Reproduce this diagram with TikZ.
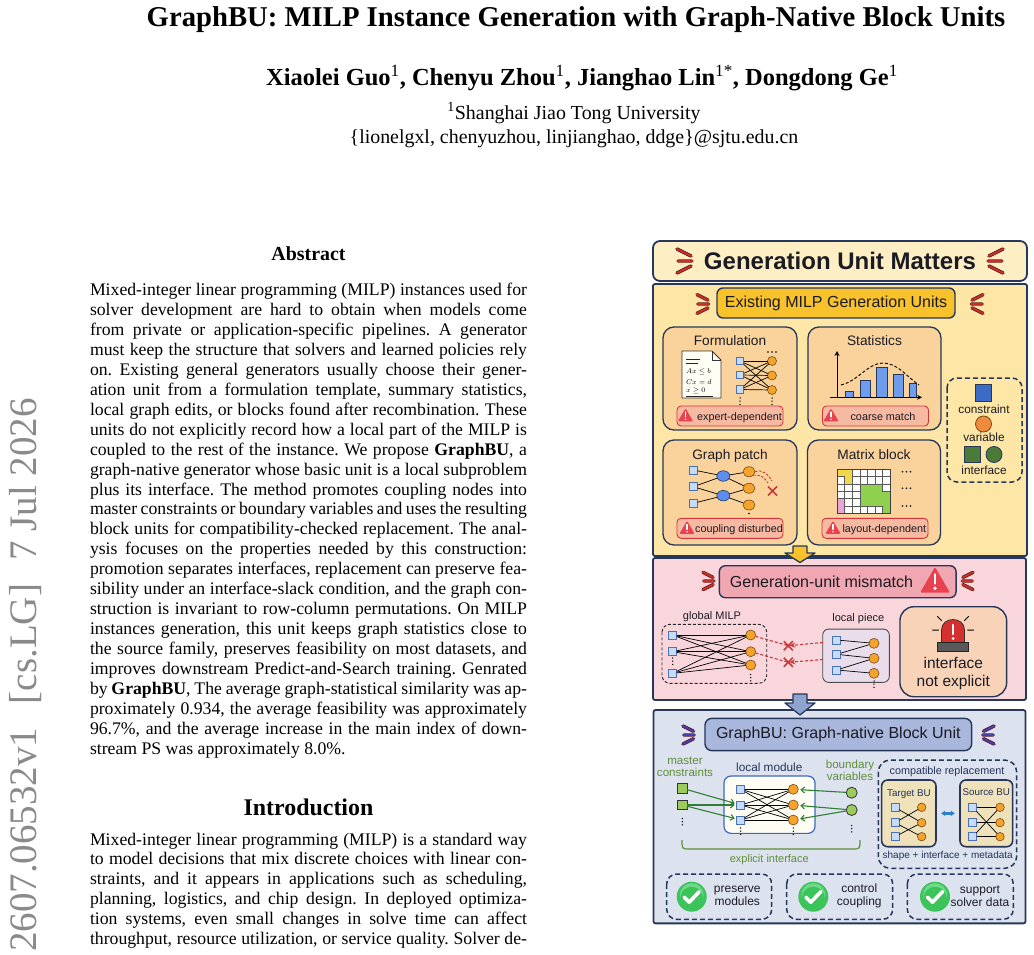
\documentclass[tikz,border=0pt]{standalone}
\usepackage{fontspec}
\setmainfont{Liberation Serif}
\newfontfamily\figsans{Liberation Sans}
\usetikzlibrary{arrows.meta,shapes.geometric}
\frenchspacing
\newcommand\fsz[2]{\fontsize{#1}{#2}\selectfont}
\definecolor{navy}{HTML}{26375A}
\definecolor{titlefill}{HTML}{FDEFC3}
\definecolor{ypanel}{HTML}{FDE6A6}
\definecolor{goldbox}{HTML}{F8C22C}
\definecolor{cardfill}{HTML}{F9D39B}
\definecolor{badgefill}{HTML}{F6B9A1}
\definecolor{badgeline}{HTML}{D4353B}
\definecolor{warnred}{HTML}{E8414F}
\definecolor{markred}{HTML}{C9302C}
\definecolor{markdark}{HTML}{5B1B1B}
\definecolor{barblue}{HTML}{6E9DEE}
\definecolor{sqfill}{HTML}{C7DBF6}
\definecolor{sqline}{HTML}{4B72B5}
\definecolor{orfill}{HTML}{F4A42C}
\definecolor{orline}{HTML}{7A4A12}
\definecolor{bluec}{HTML}{5B8EEE}
\definecolor{legblue}{HTML}{3C6BC5}
\definecolor{legorange}{HTML}{F08A3C}
\definecolor{leggreen}{HTML}{4B7B39}
\definecolor{pinkpanel}{HTML}{F9D6DC}
\definecolor{pinkbox}{HTML}{F1A7B1}
\definecolor{lavbox}{HTML}{EADDEB}
\definecolor{peach}{HTML}{F9D3B7}
\definecolor{bluepanel}{HTML}{DDE2EF}
\definecolor{bubox}{HTML}{A9B7DC}
\definecolor{bluearrow}{HTML}{8EA4CF}
\definecolor{indigo}{HTML}{4A3FAF}
\definecolor{gtext}{HTML}{5E8E3B}
\definecolor{garrow}{HTML}{2F7F34}
\definecolor{lgreen}{HTML}{9BCB5C}
\definecolor{modline}{HTML}{3D68C4}
\definecolor{modfill}{HTML}{FFFDF3}
\definecolor{khaki}{HTML}{EFE1B9}
\definecolor{dblue}{HTML}{2C7FCF}
\definecolor{checkg}{HTML}{3BC45A}
\definecolor{checkl}{HTML}{6FD98A}
\definecolor{stampgray}{HTML}{8A8A8A}
\definecolor{matyel}{HTML}{F2D64B}
\definecolor{matgreen}{HTML}{8FD14F}
\definecolor{matpink}{HTML}{E6A6D8}
\definecolor{figtext}{HTML}{1B1B24}
\definecolor{redx}{HTML}{C8383A}
\definecolor{sirenred}{HTML}{D62F2F}
\definecolor{navytext}{HTML}{22335A}

\tikzset{
  every node/.style={inner sep=0pt,outer sep=0pt},
  bodyl/.style={anchor=base west,font=\fsz{17.7}{20}},
  ft/.style={font=\figsans\fsz{#1}{#1},text=figtext},
  card/.style={draw=navy,line width=1.3pt,fill=cardfill,rounded corners=11pt},
  badge/.style={draw=badgeline,line width=0.9pt,fill=badgefill,rounded corners=4pt,minimum width=106pt,minimum height=20pt},
  csq/.style={rectangle,draw=sqline,fill=sqfill,line width=0.7pt,minimum size=#1},
  csq/.default=8pt,
  vci/.style={circle,draw=orline,fill=orfill,line width=0.6pt,minimum size=#1},
  vci/.default=9pt,
  edg/.style={draw=black,line width=0.7pt},
  panel/.style={draw=navy,line width=1.8pt},
  dbox/.style={draw=navy,line width=1.5pt,dash pattern=on 5pt off 3pt,rounded corners=10pt},
  reddash/.style={draw=redx,line width=1.1pt,dash pattern=on 3pt off 2pt},
  garr/.style={draw=garrow,line width=1.1pt,-{Straight Barb[length=3.5pt,width=6pt]},shorten >=2pt},
}

\newcommand\jl[3]{\node[bodyl] (#1) at (90,#2) {\makebox[437pt][s]{#3}};}
\newcommand\jlast[3]{\node[bodyl] (#1) at (90,#2) {#3};}
\newcommand\emark[5]{%
  \begin{scope}[shift={(#1,#2)},xscale=#4*#3,yscale=#3]
    \draw[markdark,line width=3.4pt,line cap=round] (0,-12) -- (14,-5) (1,0) -- (15,0) (0,12) -- (14,5);
    \draw[#5,line width=2pt,line cap=round] (0,-12) -- (14,-5) (1,0) -- (15,0) (0,12) -- (14,5);
  \end{scope}}
\newcommand\warnat[4]{%
  \begin{scope}[shift={(#1,#2)},scale=#3]
    \fill[warnred,rounded corners=1.2pt] (-9,7) -- (0,-8.5) -- (9,7) -- cycle;
    \draw[white,line width=#4,line cap=round] (0,-4) -- (0,1.5);
    \fill[white] (0,4.4) circle (1.1pt);
  \end{scope}}
\newcommand\vdts[2]{\foreach \dd in {0,3.2,6.4}{\fill (#1,#2+\dd) circle (0.75pt);}}
\newcommand\hdts[2]{\foreach \dd in {-4,0,4}{\fill (#1+\dd,#2) circle (0.9pt);}}
\newcommand\checkat[2]{%
  \fill[checkg] (#1,#2) circle (15pt);
  \fill[checkl] (#1,#2-1.5) circle (12pt);
  \fill[checkg] (#1,#2+1.5) circle (11.5pt);
  \draw[white,line width=3.6pt,line cap=round,line join=round] (#1-7.5,#2+0.5) -- (#1-2.5,#2+5.5) -- (#1+7.5,#2-5);}

\begin{document}
\begin{tikzpicture}[x=1pt,y=-1pt]
\useasboundingbox (0,0) rectangle (1034,955);
\fill[white] (0,0) rectangle (1034,955);

% ---------------- paper text ----------------
\node[anchor=base,font=\fsz{28.7}{30}\bfseries] (title) at (576,26.5) {GraphBU: MILP Instance Generation with Graph-Native Block Units};
\node[anchor=base,font=\fsz{24.5}{26}\bfseries] (authors) at (582,86) {Xiaolei Guo\textsuperscript{\mdseries 1}, Chenyu Zhou\textsuperscript{\mdseries 1}, Jianghao Lin\textsuperscript{\mdseries 1*}, Dongdong Ge\textsuperscript{\mdseries 1}};
\node[anchor=base,font=\fsz{19.9}{22}] (affil) at (574,119.5) {\textsuperscript{1}Shanghai Jiao Tong University};
\node[anchor=base,font=\fsz{19.9}{22}] (email) at (574,143.5) {\{lionelgxl, chenyuzhou, linjianghao, ddge\}@sjtu.edu.cn};

\node[rotate=90,anchor=base east,text=stampgray,font=\fsz{39}{39}] (stamp) at (36,398) {2607.06532v1\hspace{0.6em}[cs.LG]\hspace{0.6em}7 Jul 2026};

\node[anchor=base,font=\fsz{19.9}{22}\bfseries] (abshead) at (308.5,260.5) {Abstract};
\jl{a1}{295.5}{Mixed-integer linear programming (MILP) instances used for}
\jl{a2}{315.45}{solver development are hard to obtain when models come}
\jl{a3}{335.4}{from private or application-specific pipelines. A generator}
\jl{a4}{355.35}{must keep the structure that solvers and learned policies rely}
\jl{a5}{375.3}{on. Existing general generators usually choose their gener-}
\jl{a6}{395.25}{ation unit from a formulation template, summary statistics,}
\jl{a7}{415.2}{local graph edits, or blocks found after recombination. These}
\jl{a8}{435.15}{units do not explicitly record how a local part of the MILP is}
\jl{a9}{455.1}{coupled to the rest of the instance. We propose \textbf{GraphBU}, a}
\jl{a10}{475.05}{graph-native generator whose basic unit is a local subproblem}
\jl{a11}{495.0}{plus its interface. The method promotes coupling nodes into}
\jl{a12}{514.95}{master constraints or boundary variables and uses the resulting}
\jl{a13}{534.9}{block units for compatibility-checked replacement. The anal-}
\jl{a14}{554.85}{ysis focuses on the properties needed by this construction:}
\jl{a15}{574.8}{promotion separates interfaces, replacement can preserve fea-}
\jl{a16}{594.75}{sibility under an interface-slack condition, and the graph con-}
\jl{a17}{614.7}{struction is invariant to row-column permutations. On MILP}
\jl{a18}{634.65}{instances generation, this unit keeps graph statistics close to}
\jl{a19}{654.6}{the source family, preserves feasibility on most datasets, and}
\jl{a20}{674.55}{improves downstream Predict-and-Search training. Genrated}
\jl{a21}{694.5}{by \textbf{GraphBU}, The average graph-statistical similarity was ap-}
\jl{a22}{714.45}{proximately 0.934, the average feasibility was approximately}
\jl{a23}{734.4}{96.7\%, and the average increase in the main index of down-}
\jlast{a24}{754.35}{stream PS was approximately 8.0\%.}

\node[anchor=base,font=\fsz{23.9}{26}\bfseries] (introhead) at (308.5,815) {Introduction};
\jl{i1}{845}{Mixed-integer linear programming (MILP) is a standard way}
\jl{i2}{864.95}{to model decisions that mix discrete choices with linear con-}
\jl{i3}{884.9}{straints, and it appears in applications such as scheduling,}
\jl{i4}{904.85}{planning, logistics, and chip design. In deployed optimiza-}
\jl{i5}{924.8}{tion systems, even small changes in solve time can affect}
\jl{i6}{944.75}{throughput, resource utilization, or service quality. Solver de-}

% ---------------- figure: top ----------------
\node[panel,fill=titlefill,rounded corners=7pt,minimum width=374pt,minimum height=40pt,
      font=\figsans\bfseries\fsz{24}{24},text=figtext] (gum) at (840,261) {Generation Unit Matters};
\emark{677}{261}{1}{1}{markred}
\emark{1003}{261}{1}{-1}{markred}

\node[panel,fill=ypanel,rounded corners=2pt,minimum width=374pt,minimum height=272pt] (ypan) at (840,420) {};
\node[draw=navy,line width=1.4pt,fill=goldbox,rounded corners=6pt,minimum width=238pt,minimum height=30pt,
      ft=16] (exist) at (836,303) {Existing MILP Generation Units};
\emark{697}{304}{0.78}{1}{markred}
\emark{983}{304}{0.78}{-1}{markred}

\node[card,minimum width=134pt,minimum height=103pt] (cform) at (730,378.5) {};
\node[card,minimum width=133pt,minimum height=103pt] (cstat) at (874.5,378.5) {};
\node[card,minimum width=134pt,minimum height=105pt] (cgraph) at (730,492.5) {};
\node[card,minimum width=133pt,minimum height=105pt] (cmat) at (874,492.5) {};
\node[ft=13.7,anchor=base] (tform) at (730,345) {Formulation};
\node[ft=13.7,anchor=base] (tstat) at (874.5,345) {Statistics};
\node[ft=13.7,anchor=base] (tgraph) at (730,459) {Graph patch};
\node[ft=13.7,anchor=base] (tmat) at (874,459) {Matrix block};

% formulation document
\filldraw[fill=white!96!yellow,draw=black!80,line width=0.8pt,line join=round] (682,351) -- (712,351) -- (721,360) -- (721,398) -- (682,398) -- cycle;
\draw[black!80,line width=0.8pt,line join=round] (712,351) -- (712,360) -- (721,360);
\draw[black!85,line width=1.1pt] (686,359.5) -- (700,359.5) (686,363.5) -- (698,363.5);
\draw[black!85,line width=0.8pt] (686,396) -- (713,396);
\node[anchor=west,font=\fsz{6.6}{7}] (m1) at (686,372) {$Ax\le b$};
\node[anchor=west,font=\fsz{6.6}{7}] (m2) at (686,382) {$Cx=d$};
\node[anchor=west,font=\fsz{6.6}{7}] (m3) at (686,391) {$x\ge 0$};
% formulation graph
\node[csq=7.5pt] (f1) at (740,361) {};
\node[csq=7.5pt] (f2) at (740,375) {};
\node[csq=7.5pt] (f3) at (740,389.5) {};
\node[vci] (g1) at (772,361) {};
\node[vci] (g2) at (772,375.5) {};
\node[vci] (g3) at (772,390) {};
\foreach \i in {1,2,3}{\foreach \j in {1,2,3}{\draw[edg] (f\i) -- (g\j);}}
\hdts{772}{352}
\vdts{740}{398}
\vdts{772}{398}
\node[badge] (bform) at (730,416) {};
\warnat{685.5}{415.5}{0.85}{1.5pt}
\node[ft=10.8,anchor=base] (tbform) at (739.5,420) {expert-dependent};

% statistics
\filldraw[fill=barblue,draw=navy,line width=0.8pt] (845,391.3) rectangle (853.3,397.3);
\filldraw[fill=barblue,draw=navy,line width=0.8pt] (860.7,380.7) rectangle (870.7,397.3);
\filldraw[fill=barblue,draw=navy,line width=0.8pt] (876,367.3) rectangle (887.3,397.3);
\filldraw[fill=barblue,draw=navy,line width=0.8pt] (893.3,374) rectangle (903.3,397.3);
\filldraw[fill=barblue,draw=navy,line width=0.8pt] (909.3,383) rectangle (916.7,397.3);
\draw[black,line width=1pt,-{Stealth[length=5pt,width=5pt]}] (837,398) -- (837,351);
\draw[black,line width=1pt,-{Stealth[length=5pt,width=5pt]}] (830,397.3) -- (922,397.3);
\draw[black,line width=0.9pt,dash pattern=on 3pt off 2pt] (841,385) .. controls (858,381) and (868,363) .. (883,363) .. controls (898,363) and (908,378) .. (919,385);
\node[badge] (bstat) at (875.5,416) {};
\warnat{831}{415.5}{0.85}{1.5pt}
\node[ft=10.8,anchor=base] (tbstat) at (883,420) {coarse match};

% legend
\draw[dbox] (947,378) rectangle (1022,482);
\node[rectangle,draw=navy,fill=legblue,line width=0.8pt,minimum size=16.5pt] (lgc) at (983.5,393) {};
\node[ft=11.8,anchor=base] (tlgc) at (984,413) {constraint};
\node[circle,draw=orline,fill=legorange,line width=0.8pt,minimum size=16pt] (lgv) at (983.5,424) {};
\node[ft=11.8,anchor=base] (tlgv) at (984,441.5) {variable};
\node[rectangle,draw=navy,fill=leggreen,line width=0.8pt,minimum size=16pt] (lgis) at (972,454.5) {};
\node[circle,draw=navy,fill=leggreen,line width=0.8pt,minimum size=16pt] (lgic) at (994,454.5) {};
\node[ft=11.8,anchor=base] (tlgi) at (984,474) {interface};

% graph patch
\node[csq=8pt] (gp1) at (693.3,470) {};
\node[csq=8pt] (gp2) at (693.3,486.7) {};
\node[csq=8pt] (gp3) at (693.3,503.3) {};
\node[ellipse,draw=navy,fill=bluec,line width=0.6pt,minimum width=13pt,minimum height=10.5pt] (gb1) at (723.3,476) {};
\node[ellipse,draw=navy,fill=bluec,line width=0.6pt,minimum width=13pt,minimum height=10.5pt] (gb2) at (723.3,495.7) {};
\node[ellipse,draw=orline,fill=orfill,line width=0.6pt,minimum width=12pt,minimum height=10pt] (go1) at (749,471.7) {};
\node[ellipse,draw=orline,fill=orfill,line width=0.6pt,minimum width=12pt,minimum height=10pt] (go2) at (749,488.3) {};
\node[ellipse,draw=orline,fill=orfill,line width=0.6pt,minimum width=12pt,minimum height=10pt] (go3) at (749,505) {};
\draw[edg] (gp1) -- (gb1); \draw[edg] (gp2) -- (gb1); \draw[edg] (gp2) -- (gb2); \draw[edg] (gp3) -- (gb2);
\draw[edg] (gb1) -- (go1); \draw[edg] (gb1) -- (go2); \draw[edg] (gb2) -- (go2); \draw[edg] (gb2) -- (go3);
\draw[redx,line width=0.9pt,dash pattern=on 2.5pt off 1.5pt] (go1.east) .. controls (762,469) and (768,474) .. (772,481);
\draw[redx,line width=0.9pt,dash pattern=on 2.5pt off 1.5pt] (go1.south east) .. controls (760,474) and (765,478) .. (768,483);
\draw[redx,line width=1.6pt] (768,486.5) -- (777,495.5) (768,495.5) -- (777,486.5);
\fill (749,513.5) circle (0.9pt);
\node[badge] (bgraph) at (730,528.3) {};
\warnat{687}{528}{0.85}{1.5pt}
\node[ft=10.8,anchor=base] (tbgraph) at (739,532.3) {coupling disturbed};

% matrix block
\fill[white] (837,469.3) rectangle (890.2,513.28);
\foreach \c in {1,...,6}{\draw[black!65,line width=0.5pt] ({837+7.6*\c},469.3) -- ({837+7.6*\c},513.28);}
\foreach \r in {1,...,5}{\draw[black!65,line width=0.5pt] (837,{469.3+7.33*\r}) -- (890.2,{469.3+7.33*\r});}
\filldraw[fill=matyel,draw=black!65,line width=0.5pt] (837,469.3) -- (852.2,469.3) -- (852.2,483.96) -- (844.6,483.96) -- (844.6,476.63) -- (837,476.63) -- cycle;
\filldraw[fill=matgreen,draw=black!65,line width=0.5pt] (859.8,483.96) -- (882.6,483.96) -- (882.6,491.29) -- (890.2,491.29) -- (890.2,513.28) -- (882.6,513.28) -- (882.6,505.95) -- (859.8,505.95) -- cycle;
\filldraw[fill=matpink,draw=black!65,line width=0.5pt] (837,498.62) rectangle (844.6,513.28);
\draw[black!75,line width=0.8pt] (837,469.3) rectangle (890.2,513.28);
\hdts{906.5}{471.7}
\hdts{906.5}{488.3}
\hdts{906.5}{506}
\node[badge] (bmat) at (875,528.3) {};
\warnat{833}{528}{0.85}{1.5pt}
\node[ft=10.8,anchor=base] (tbmat) at (884.3,532.3) {layout-dependent};

% ---------------- figure: middle ----------------
\node[panel,fill=pinkpanel,rounded corners=2pt,minimum width=373pt,minimum height=142pt] (ppan) at (839.5,629) {};
\filldraw[fill=goldbox,draw=navy,line width=1.3pt,line join=round] (793,546) -- (807,546) -- (807,553) -- (815,553) -- (800,562.5) -- (785,553) -- (793,553) -- cycle;

\node[draw=navy,line width=1.4pt,fill=pinkbox,rounded corners=6pt,minimum width=236.7pt,minimum height=32pt] (mism) at (837.7,581.7) {};
\node[ft=16,anchor=base] (tmism) at (821.5,587.5) {Generation-unit mismatch};
\warnat{935}{581}{1.65}{2.6pt}
\emark{703}{581}{0.72}{1}{markred}
\emark{973}{581}{0.72}{-1}{markred}

\node[ft=11,anchor=base] (glab) at (712,619.7) {global MILP};
\draw[black!85,line width=0.9pt,dash pattern=on 3pt off 2pt,rounded corners=8pt] (662,624.3) rectangle (766.7,683.3);
\node[csq=8pt] (gm1) at (672.7,635) {};
\node[csq=8pt] (gm2) at (672.7,651.7) {};
\node[csq=8pt] (gm3) at (672.7,673.3) {};
\node[vci=10pt] (gc1) at (750.7,635) {};
\node[vci=10pt] (gc2) at (750.7,651.7) {};
\node[vci=10pt] (gc3) at (750.7,665) {};
\foreach \i in {1,2,3}{\foreach \j in {1,2,3}{\draw[edg] (gm\i) -- (gc\j);}}
\vdts{672.7}{658}
\vdts{750.7}{674.5}

\node[ft=11,anchor=base] (llab) at (858.3,621.7) {local piece};
\node[draw=black!70,fill=lavbox,line width=0.9pt,rounded corners=6pt,minimum width=66.6pt,minimum height=53.3pt] (lpbox) at (856,655.7) {};
\node[csq=8pt] (lq1) at (836.7,640) {};
\node[csq=8pt] (lq2) at (836.7,654.3) {};
\node[csq=8pt] (lq3) at (836.7,670) {};
\node[vci=10pt] (lc1) at (874,643.3) {};
\node[vci=10pt] (lc2) at (874,658.3) {};
\node[vci=10pt] (lc3) at (874,673.3) {};
\draw[edg] (lq1) -- (lc1); \draw[edg] (lq2) -- (lc1); \draw[edg] (lq2) -- (lc2);
\draw[edg] (lq3) -- (lc2); \draw[edg] (lq3) -- (lc3);
\vdts{874}{681}

\coordinate (x1) at (788.3,645.7);
\coordinate (x2) at (788.3,662.3);
\coordinate (la1) at (823,642.5);
\coordinate (la2) at (823,659.5);
\draw[reddash] (gc1) -- (x1);
\draw[reddash] (gc2) -- (x2);
\draw[reddash,-{Stealth[length=6pt,width=5pt]},shorten >=1pt] (la1) -- (x1);
\draw[reddash,-{Stealth[length=6pt,width=5pt]},shorten >=1pt] (la2) -- (x2);
\draw[redx,line width=1.6pt] (783.8,641.2) -- (792.8,650.2) (783.8,650.2) -- (792.8,641.2);
\draw[redx,line width=1.6pt] (783.8,657.8) -- (792.8,666.8) (783.8,666.8) -- (792.8,657.8);

\node[draw=navy,line width=1.4pt,fill=peach,rounded corners=14pt,minimum width=106.7pt,minimum height=90pt] (icard) at (953.3,651.7) {};
\draw[black,line width=1pt,line cap=round] (932.5,630) -- (938.5,630) (967.5,630) -- (973.5,630) (937.5,616.5) -- (941.5,620.5) (968.5,616.5) -- (964.5,620.5);
\filldraw[fill=sirenred,draw=black!80,line width=0.8pt] (941.5,642.5) -- (941.5,630) .. controls (941.5,616) and (964.5,616) .. (964.5,630) -- (964.5,642.5) -- cycle;
\filldraw[fill=black!65,draw=black!85,line width=0.8pt] (937.5,642.5) rectangle (968.5,651);
\draw[white,line width=2.6pt,line cap=round] (953,625) -- (953,634);
\fill[white] (953,638.5) circle (1.5pt);
\node[ft=15.5,anchor=base] (tif1) at (953.3,668.8) {interface};
\node[ft=15.5,anchor=base] (tif2) at (953.3,686.5) {not explicit};

% ---------------- figure: bottom ----------------
\node[panel,fill=bluepanel,rounded corners=2pt,minimum width=372pt,minimum height=213.3pt] (bpan) at (839.5,816.7) {};
\filldraw[fill=bluearrow,draw=navy,line width=1.3pt,line join=round] (793,694) -- (807,694) -- (807,703) -- (815,703) -- (800,715) -- (785,703) -- (793,703) -- cycle;

\node[draw=navy,line width=1.4pt,fill=bubox,rounded corners=7pt,minimum width=266.7pt,minimum height=32.3pt,ft=16] (gbu) at (838.3,734.5) {GraphBU: Graph-native Block Unit};
\emark{683}{735}{0.75}{1}{indigo}
\emark{994}{735}{0.75}{-1}{indigo}

\node[align=center,font=\figsans\fsz{11.6}{11.7},text=gtext] (mct) at (685,767) {master\\constraints};
\node[ft=11.8,text=navytext,anchor=base] (lmt) at (769.3,771.5) {local module};
\node[align=center,font=\figsans\fsz{11.6}{11.7},text=gtext] (bvt) at (850,770) {boundary\\variables};

\node[draw=modline,fill=modfill,line width=1.2pt,rounded corners=7pt,minimum width=91pt,minimum height=57.3pt] (lmbox) at (769.5,804.7) {};
\node[csq=8pt] (ms1) at (740.7,789.3) {};
\node[csq=8pt] (ms2) at (740.7,805) {};
\node[csq=8pt] (ms3) at (740.7,820) {};
\node[vci=10pt] (mc1) at (793.3,789.3) {};
\node[vci=10pt] (mc2) at (793.3,805) {};
\node[vci=10pt] (mc3) at (793.3,820) {};
\foreach \i in {1,2,3}{\foreach \j in {1,2,3}{\draw[edg] (ms\i) -- (mc\j);}}
\vdts{740.7}{828}
\vdts{793.3}{828}

\node[rectangle,draw=black!80,fill=lgreen,line width=0.8pt,minimum size=9.5pt] (mq1) at (682.3,788.3) {};
\node[rectangle,draw=black!80,fill=lgreen,line width=0.8pt,minimum size=9.5pt] (mq2) at (682.3,805) {};
\vdts{682.3}{818.5}
\node[circle,draw=black!80,fill=lgreen,line width=0.8pt,minimum size=11pt] (bc1) at (851.7,792.7) {};
\node[circle,draw=black!80,fill=lgreen,line width=0.8pt,minimum size=11pt] (bc2) at (851.7,810) {};
\vdts{851.7}{825.5}
\draw[garr] (mq1) -- (ms2);
\draw[garr] (mq2) -- (ms2);
\draw[garr] (mq2) -- (ms3);
\draw[garr] (bc1) -- (mc1);
\draw[garr] (bc2) -- (mc2);
\draw[garr] (bc2) -- (mc3);
\draw[gtext,line width=1.2pt] (682,840) .. controls (682,849) .. (690,849) -- (852,849) .. controls (860,849) .. (860,840);
\node[ft=11,text=gtext,anchor=base] (eit) at (769.3,862) {explicit interface};

\draw[dbox,rounded corners=12pt] (878.3,760) rectangle (1016.7,868.3);
\node[ft=10.8,text=navytext,anchor=base] (crt) at (947,774.5) {compatible replacement};
\node[draw=navy,fill=khaki,line width=1.6pt,rounded corners=6pt,minimum width=54.3pt,minimum height=66.7pt] (tbu) at (908.8,813.35) {};
\node[ft=9.8,text=navytext,anchor=base] (tbt) at (909,796.8) {Target BU};
\node[csq=8pt] (ts1) at (895,807.3) {};
\node[csq=8pt] (ts2) at (895,822.7) {};
\node[csq=8pt] (ts3) at (895,836.7) {};
\node[vci=8.5pt] (tc1) at (921.7,807.3) {};
\node[vci=8.5pt] (tc2) at (921.7,822.7) {};
\node[vci=8.5pt] (tc3) at (921.7,836.7) {};
\draw[edg] (ts1) -- (tc2); \draw[edg] (ts2) -- (tc1); \draw[edg] (ts2) -- (tc3); \draw[edg] (ts3) -- (tc2);
\node[draw=navy,fill=khaki,line width=1.6pt,rounded corners=6pt,minimum width=52.7pt,minimum height=66.7pt] (sbu) at (986.3,813.35) {};
\node[ft=9.8,text=navytext,anchor=base] (sbt) at (986.3,795.8) {Source BU};
\node[csq=8pt] (ss1) at (972.7,807.3) {};
\node[csq=8pt] (ss2) at (972.7,822.7) {};
\node[csq=8pt] (ss3) at (972.7,836.7) {};
\node[vci=8.5pt] (sc1) at (1000,807.3) {};
\node[vci=8.5pt] (sc2) at (1000,822.7) {};
\node[vci=8.5pt] (sc3) at (1000,836.7) {};
\draw[edg] (ss1) -- (sc1); \draw[edg] (ss1) -- (sc3); \draw[edg,line width=1.5pt] (ss2) -- (sc2);
\draw[edg] (ss3) -- (sc1); \draw[edg] (ss3) -- (sc3);
\draw[dblue,line width=2.4pt,{Latex[length=4pt,width=6pt]}-{Latex[length=4pt,width=6pt]},shorten <=5pt,shorten >=5pt] (tbu) -- (sbu);
\node[ft=10,text=navytext,anchor=base] (smt) at (947.7,858.6) {shape + interface + metadata};

\draw[dbox] (666.7,874) rectangle (771.7,919.3);
\draw[dbox] (786.7,874) rectangle (892.7,919.3);
\draw[dbox] (907.3,874) rectangle (1013.3,919.3);
\checkat{691.7}{896.7}
\checkat{813.3}{896.7}
\checkat{935}{896.7}
\node[align=center,font=\figsans\fsz{12}{12.5},text=figtext] (ck1) at (737.3,896) {preserve\\modules};
\node[align=center,font=\figsans\fsz{12}{12.5},text=figtext] (ck2) at (859.3,896) {control\\coupling};
\node[align=center,font=\figsans\fsz{12}{12.5},text=figtext] (ck3) at (980,896) {support\\solver data};
\end{tikzpicture}
\end{document}
